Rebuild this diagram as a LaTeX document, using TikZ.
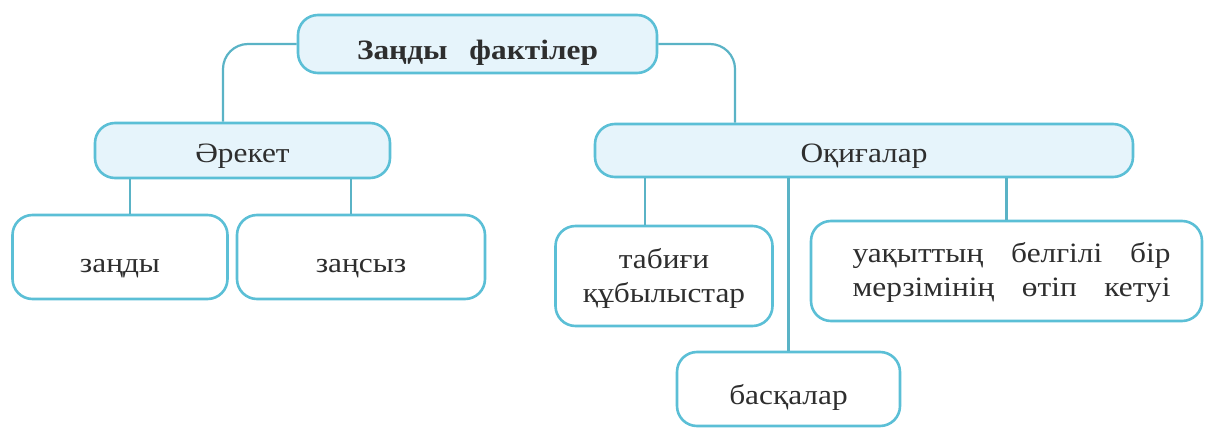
\documentclass[tikz,border=0pt]{standalone}
\usepackage{fontspec}
\setmainfont[FakeStretch=1.12]{Liberation Serif}
\definecolor{edge}{HTML}{5BBFD6}
\definecolor{conncol}{HTML}{5AB3C6}
\definecolor{mainfill}{HTML}{E6F4FB}
\definecolor{txt}{HTML}{2E2E2E}
\begin{document}
\begin{tikzpicture}[x=1pt,y=-1pt,
  box/.style={draw=edge,line width=2.6pt,rounded corners=20pt,inner sep=0pt,
    text=txt,font=\fontsize{28}{34}\selectfont,align=center},
  mainbox/.style={box,fill=mainfill,text height=23pt,text depth=0pt},
  leafbox/.style={box,fill=white},
  oneline/.style={text height=30pt,text depth=0pt},
  conn/.style={draw=conncol,line width=2.2pt}]
\useasboundingbox (0,0) rectangle (1205,428);
\node[mainbox,minimum width=359pt,minimum height=58pt,text height=31pt,font=\fontsize{28}{34}\selectfont\bfseries] (top) at (477.5,44) {Заңды\hspace{0.5em} фактілер};
\node[mainbox,minimum width=295pt,minimum height=55pt] (arek) at (242.5,150.5) {Әрекет};
\node[mainbox,minimum width=538pt,minimum height=53pt] (oq) at (864,150.5) {Оқиғалар};
\node[leafbox,oneline,minimum width=215pt,minimum height=84pt] (zandy) at (120,257) {заңды};
\node[leafbox,oneline,minimum width=248pt,minimum height=84pt] (zansyz) at (361,257) {заңсыз};
\node[leafbox,minimum width=217pt,minimum height=100pt] (tab) at (664,276) {\rule{0pt}{24pt}табиғи\\құбылыстар};
\node[leafbox,minimum width=391pt,minimum height=100pt] (uaq) at (1006.5,271) {\rule{0pt}{24pt}\hspace{10pt}\makebox[318pt][s]{уақыттың\ \ белгілі\ \ бір}\\\hspace{10pt}\makebox[318pt][s]{мерзімінің\ \ өтіп\ \ кетуі}};
\node[leafbox,oneline,minimum width=223pt,minimum height=74pt] (basq) at (788.5,389) {басқалар};
\draw[conn,rounded corners=25pt] (top.west) -| ([xshift=-19.5pt]arek.north);
\draw[conn,rounded corners=25pt] (top.east) -| ([xshift=-129pt]oq.north);
\draw[conn] ([xshift=10pt]zandy.north |- arek.south) -- ([xshift=10pt]zandy.north);
\draw[conn] ([xshift=-10pt]zansyz.north |- arek.south) -- ([xshift=-10pt]zansyz.north);
\draw[conn] ([xshift=-19pt]tab.north |- oq.south) -- ([xshift=-19pt]tab.north);
\draw[conn] (basq.north |- oq.south) -- (basq.north);
\draw[conn] (uaq.north |- oq.south) -- (uaq.north);
\end{tikzpicture}
\end{document}
